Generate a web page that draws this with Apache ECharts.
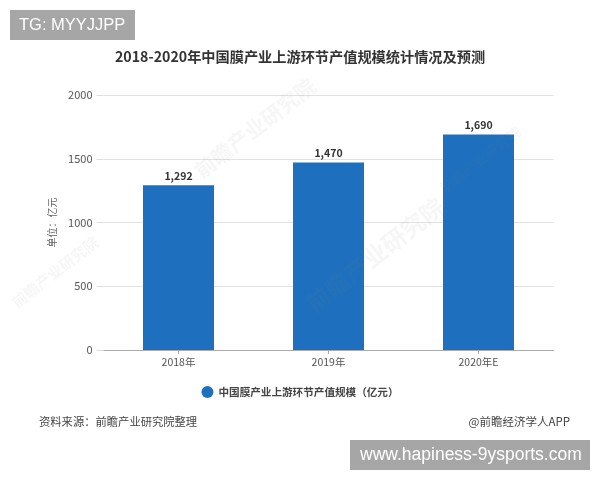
<!DOCTYPE html>
<html><head><meta charset="utf-8">
<style>html,body{margin:0;padding:0;background:#fff}#c{width:600px;height:480px}</style>
<script src="https://cdn.jsdelivr.net/npm/echarts@6/dist/echarts.min.js"></script>
</head><body><div id="c"></div>
<script>
const titleText = '2018-2020年中国膜产业上游环节产值规模统计情况及预测';
const categories = ['2018年','2019年','2020年E'];
const seriesName = '中国膜产业上游环节产值规模（亿元）';
const values = [1292,1470,1690];
const yTicks = {min:0,max:2000,interval:500};
const yName = '单位：亿元';
const sourceText = '资料来源：前瞻产业研究院整理';
const creditText = '@前瞻经济学人APP';
const tagText = 'TG: MYYJJPP';
const siteText = 'www.hapiness-9ysports.com';
const markText = '前瞻产业研究院';
const cjk = '"Noto Sans CJK SC","Noto Sans",sans-serif';
const chart = echarts.init(document.getElementById('c'),null,{renderer:'canvas'});
function mark(x,y,size){return {type:'text',x:x,y:y,rotation:Math.PI*38/180,z:10,silent:true,
  style:{text:markText,font:'bold '+size+'px '+cjk,fill:'rgba(110,130,120,0.07)',textAlign:'center',textVerticalAlign:'middle'}};}
chart.setOption({
  animation:false,
  backgroundColor:'#fff',
  textStyle:{fontFamily:cjk},
  title:{text:titleText,left:'center',top:45,textStyle:{fontFamily:cjk,fontSize:14.2,fontWeight:'bold',color:'#333'}},
  legend:{data:[seriesName],left:'center',top:381,icon:'circle',itemWidth:12,itemHeight:12,itemGap:6,
    textStyle:{fontSize:10.6,fontWeight:'bold',color:'#444'}},
  grid:{left:103.5,right:46.5,top:95,bottom:130},
  xAxis:{type:'category',data:categories,
    axisLine:{lineStyle:{color:'#aaa',width:1}},axisTick:{show:true,alignWithLabel:true,length:4,lineStyle:{color:'#aaa'}},
    axisLabel:{fontSize:10.5,color:'#555',margin:7}},
  yAxis:{type:'value',min:yTicks.min,max:yTicks.max,interval:yTicks.interval,
    name:yName,nameLocation:'middle',nameGap:44,nameTextStyle:{fontSize:10,color:'#666'},
    axisLine:{show:false},axisTick:{show:true,length:7,lineStyle:{color:'#ddd'}},
    axisLabel:{fontSize:11,color:'#555',margin:11,formatter:v=>String(v)},
    splitLine:{lineStyle:{color:'#e2e2e2',width:1}}},
  series:[{name:seriesName,type:'bar',data:values,barWidth:71,z:2,
    itemStyle:{color:'#1e70bf'},
    label:{show:true,position:'top',distance:4,fontSize:10.5,fontWeight:'bold',color:'#333',
      formatter:p=>p.value.toLocaleString('en-US')}}],
  graphic:[
    mark(255,128,21),mark(55,272,15),mark(375,255,24),mark(480,160,14),
    {type:'rect',shape:{x:10,y:10,width:125,height:30},style:{fill:'#a6a6a6'},z:20,silent:true},
    {type:'text',x:19,y:25,z:21,style:{text:tagText,font:'16.5px "Liberation Sans",sans-serif',fill:'#fff',textVerticalAlign:'middle'}},
    {type:'rect',shape:{x:350,y:440,width:240,height:30},style:{fill:'#a6a6a6'},z:20,silent:true},
    {type:'text',x:360,y:455,z:21,style:{text:siteText,font:'17.5px "Liberation Sans",sans-serif',fill:'#fff',textVerticalAlign:'middle'}},
    {type:'text',x:39,y:422,z:21,style:{text:sourceText,font:'11.3px '+cjk,fill:'#444',textVerticalAlign:'middle'}},
    {type:'text',x:570,y:422,z:21,style:{text:creditText,font:'11.5px '+cjk,fill:'#444',textAlign:'right',textVerticalAlign:'middle'}}
  ]
});
</script></body></html>
